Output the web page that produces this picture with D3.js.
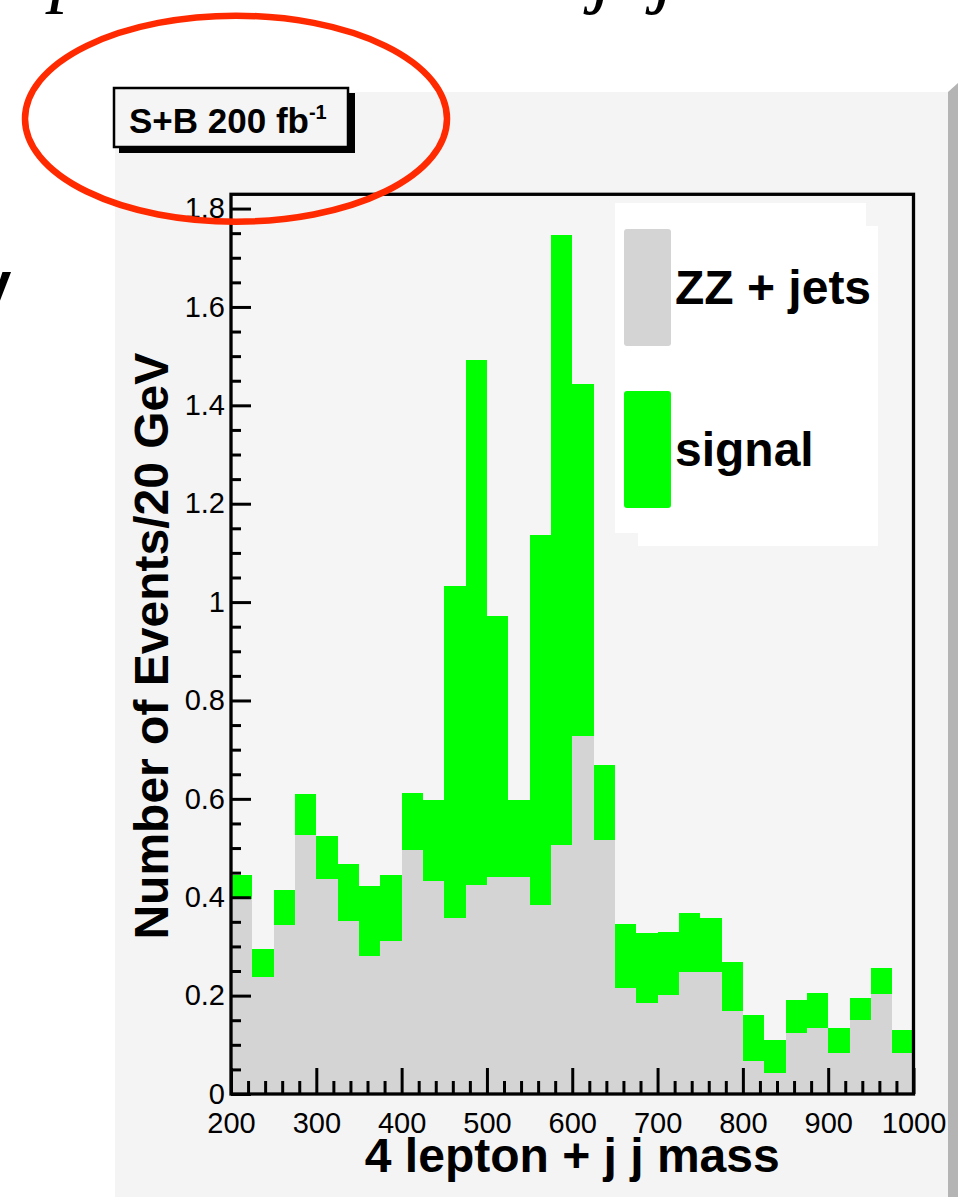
<!DOCTYPE html>
<html><head><meta charset="utf-8">
<script src="https://cdn.jsdelivr.net/npm/d3@7/dist/d3.min.js"></script>
<style>html,body{margin:0;padding:0;background:#fff;overflow:hidden}</style>
</head><body>
<svg id="c" width="968" height="1197"></svg>
<script>
// ---- data ----
const binLowEdges = [200,225,250,275,300,325,350,375,400,425,450,475,500,525,550,575,
                     600,625,650,675,700,725,750,775,800,825,850,875,900,925,950,975];
const binWidth = 25;
const zzJets = [0.396,0.238,0.343,0.526,0.437,0.352,0.281,0.311,0.496,0.432,0.358,0.425,0.441,0.441,0.384,0.506,
                0.728,0.516,0.216,0.184,0.201,0.247,0.249,0.169,0.068,0.042,0.125,0.135,0.084,0.150,0.203,0.084];
const signal = [0.049,0.056,0.071,0.083,0.088,0.116,0.142,0.134,0.116,0.165,0.675,1.068,0.530,0.156,0.752,1.240,
                0.716,0.152,0.129,0.143,0.128,0.120,0.108,0.099,0.093,0.068,0.066,0.071,0.051,0.046,0.054,0.046];
const seriesKeys = ["zz","sig"];
const seriesLabels = ["ZZ + jets","signal"];
const seriesColors = ["#d4d4d4","#00ff00"];
const xMajorTicks = [200,300,400,500,600,700,800,900,1000];
const xMinorTicks = [220,240,260,280,320,340,360,380,420,440,460,480,520,540,560,580,620,640,660,680,
                     720,740,760,780,820,840,860,880,920,940,960,980];
const yMajorTicks = [0,0.2,0.4,0.6,0.8,1.0,1.2,1.4,1.6,1.8];
const yMinorTicks = [0.05,0.1,0.15,0.25,0.3,0.35,0.45,0.5,0.55,0.65,0.7,0.75,0.85,0.9,0.95,1.05,1.1,1.15,
                     1.25,1.3,1.35,1.45,1.5,1.55,1.65,1.7,1.75];
const xDomain = [200,1000];
const yDomain = [0,1.829];
const xTitle = "4 lepton + j j mass";
const yTitle = "Number of Events/20 GeV";
const paveText = "S+B 200 fb";
const paveSup = "-1";

// ---- layout ----
const svg = d3.select("#c");
const FONT = "'Liberation Sans', Arial, Helvetica, sans-serif";
const SERIF = "'Liberation Serif', serif";
const frame = {l:231, r:913.5, t:194.3, b:1094};

// slide fragments (cut off by the page edges)
function frag(txt, x0, y0, size, fam, italic, bold){
  svg.append("text").attr("x",x0).attr("y",y0).attr("font-family",fam)
    .attr("font-style",italic?"italic":"normal").attr("font-weight",bold?"bold":"normal")
    .attr("font-size",size).text(txt);
}
frag("p",-15,-3,80,SERIF,true,false);
frag("p",50,-3,80,SERIF,true,false);
frag(",",498,-17,80,SERIF,true,false);
frag("j",592,-2,80,SERIF,true,false);
frag("j",654,-2,80,SERIF,true,false);
frag("y",-22,303,60,FONT,false,true);

// pad
svg.append("rect").attr("x",115).attr("y",92).attr("width",833).attr("height",1197-92).attr("fill","#f4f4f4");
svg.append("polygon").attr("points","948,92 958,83 958,1197 948,1197").attr("fill","#b4b4b4");

// frame background
svg.append("rect").attr("x",frame.l).attr("y",frame.t).attr("width",frame.r-frame.l)
  .attr("height",frame.b-frame.t).attr("fill","#f5f5f5");

const x = d3.scaleLinear().domain(xDomain).range([frame.l, frame.r]);
const y = d3.scaleLinear().domain(yDomain).range([frame.b, frame.t]);

// stacked histogram
const table = binLowEdges.map((lo,i)=>({lo, zz: zzJets[i], sig: signal[i]}));
const stacked = d3.stack().keys(seriesKeys)(table);
const gBars = svg.append("g").attr("shape-rendering","crispEdges");
stacked.forEach((layer,li)=>{
  gBars.append("g").attr("fill",seriesColors[li])
    .selectAll("rect").data(layer).join("rect")
    .attr("x", d=>x(d.data.lo))
    .attr("width", d=>x(d.data.lo+binWidth)-x(d.data.lo))
    .attr("y", d=>y(d[1]))
    .attr("height", d=>y(d[0])-y(d[1]));
});

// legend
const lg = svg.append("g");
lg.append("rect").attr("x",638).attr("y",226).attr("width",240).attr("height",320).attr("fill","#fff");
lg.append("rect").attr("x",615).attr("y",203).attr("width",251).attr("height",330).attr("fill","#fff");
const legendY = [229, 391];
const legendTextY = [304, 466];
seriesLabels.forEach((lab,i)=>{
  lg.append("rect").attr("x",624).attr("y",legendY[i]).attr("width",47).attr("height",117)
    .attr("rx",3).attr("fill",seriesColors[i]);
  lg.append("text").attr("x",675).attr("y",legendTextY[i]).attr("font-family",FONT)
    .attr("font-weight","bold").attr("font-size",48).text(lab);
});

// axes
function styleAxis(g){
  g.select(".domain").remove();
  g.selectAll(".tick line").attr("stroke","#000").attr("stroke-width",3);
  g.selectAll("text").attr("font-family",FONT).attr("font-size",29).attr("fill","#000");
}
const yAxisMajor = d3.axisLeft(y).tickValues(yMajorTicks).tickSize(-20).tickPadding(6)
  .tickFormat(d=>d3.format("~g")(d));
svg.append("g").attr("transform",`translate(${frame.l},0)`).call(yAxisMajor).call(styleAxis);
const yAxisMinor = d3.axisLeft(y).tickValues(yMinorTicks).tickSize(-10).tickFormat("");
svg.append("g").attr("transform",`translate(${frame.l},0)`).call(yAxisMinor).call(styleAxis);

const xAxisMajor = d3.axisBottom(x).tickValues(xMajorTicks).tickSize(-26).tickPadding(18)
  .tickFormat(d3.format("d"));
svg.append("g").attr("transform",`translate(0,${frame.b})`).call(xAxisMajor).call(styleAxis);
const xAxisMinor = d3.axisBottom(x).tickValues(xMinorTicks).tickSize(-13).tickFormat("");
svg.append("g").attr("transform",`translate(0,${frame.b})`).call(xAxisMinor).call(styleAxis);

// frame border
svg.append("rect").attr("x",frame.l).attr("y",frame.t).attr("width",frame.r-frame.l)
  .attr("height",frame.b-frame.t).attr("fill","none").attr("stroke","#000").attr("stroke-width",3.3);

// axis titles
svg.append("text").attr("x",(frame.l+frame.r)/2).attr("y",1172).attr("text-anchor","middle")
  .attr("font-family",FONT).attr("font-weight","bold").attr("font-size",48).text(xTitle);
svg.append("text").attr("transform",`translate(168,${(frame.t+frame.b)/2+2}) rotate(-90)`)
  .attr("text-anchor","middle").attr("font-family",FONT).attr("font-weight","bold")
  .attr("font-size",48).text(yTitle);

// pave text label
svg.append("rect").attr("x",119).attr("y",93).attr("width",236).attr("height",60).attr("fill","#000");
svg.append("rect").attr("x",114).attr("y",88).attr("width",234).attr("height",59)
  .attr("fill","#f5f5f5").attr("stroke","#000").attr("stroke-width",2.5);
const pt = svg.append("text").attr("x",129).attr("y",133).attr("font-family",FONT)
  .attr("font-weight","bold").attr("font-size",35);
pt.append("tspan").text(paveText);
pt.append("tspan").attr("font-size",20).attr("dy",-14).text(paveSup);

// red annotation ellipse
svg.append("ellipse").attr("cx",236).attr("cy",118.7).attr("rx",211).attr("ry",103)
  .attr("fill","none").attr("stroke","#ff2a00").attr("stroke-width",6.5);
</script>
</body></html>
